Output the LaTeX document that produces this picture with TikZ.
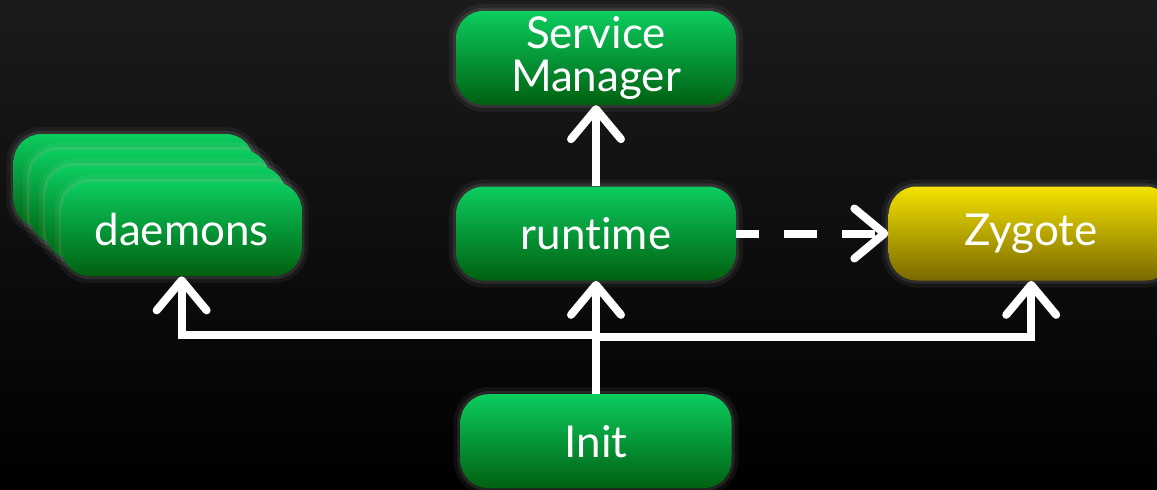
\documentclass[tikz,border=0pt]{standalone}
\usepackage{fontspec}
\setmainfont{Lato}[Ligatures=NoCommon]
\usetikzlibrary{positioning,arrows.meta,calc}

\definecolor{gtop}{RGB}{12,205,95}
\definecolor{gbot}{RGB}{0,96,16}
\definecolor{ytop}{RGB}{243,226,0}
\definecolor{ybot}{RGB}{122,104,0}
\definecolor{bgtop}{RGB}{27,27,27}

\tikzset{
	box/.style={rounded corners=0.56cm, minimum width=5.6cm, minimum height=1.88cm, align=center, text=white,
		font=\fontsize{25}{25.5}\selectfont, top color=gtop, bottom color=gbot,
		preaction={draw=white, draw opacity=0.05, line width=8pt},
		preaction={draw=white, draw opacity=0.09, line width=3.5pt}},
	yellowbox/.style={box, top color=ytop, bottom color=ybot},
	dbox/.style={box, minimum width=4.8cm},
	flow/.style={draw=white, line width=0.16cm, -{Straight Barb[length=0.6cm, width=1cm, round]}}
}

\begin{document}
\begin{tikzpicture}
	\useasboundingbox (0,0) rectangle (23.14,-9.78);
	\fill [top color=bgtop, bottom color=black] (0,0) rectangle (23.14,-9.78);
	\node [box] (runtime) at (11.92,-4.67) {runtime};
	\node [box, inner sep=0.5pt, above = 1.62cm of runtime] (sm) {Service\\[-1pt]Manager};
	\node [box, minimum width=5.42cm, below = 2.26cm of runtime] (init) {Init};
	\node [yellowbox, minimum width=5.7cm, right = 3.04cm of runtime] (zygote) {Zygote};
	\coordinate [left = 5.48cm of runtime, yshift=0.09cm] (dpos);
	\foreach \k in {3,2,1} \node [dbox] (d\k) at ([shift={(-0.32*\k,0.32*\k)}]dpos) {};
	\node [dbox] (d0) at (dpos) {daemons};
	\coordinate (split) at ($(init.north)!0.5!(runtime.south)$);
	\draw [flow] (runtime) -- (sm);
	\draw [flow, dash pattern=on 0.66cm off 0.5cm, dash phase=0.2cm] (runtime) -- (zygote);
	\draw [flow] (init) -- (runtime);
	\draw [flow] ([yshift=0.05cm]split) -| (d0);
	\draw [flow] (split) -| (zygote);
\end{tikzpicture}
\end{document}
